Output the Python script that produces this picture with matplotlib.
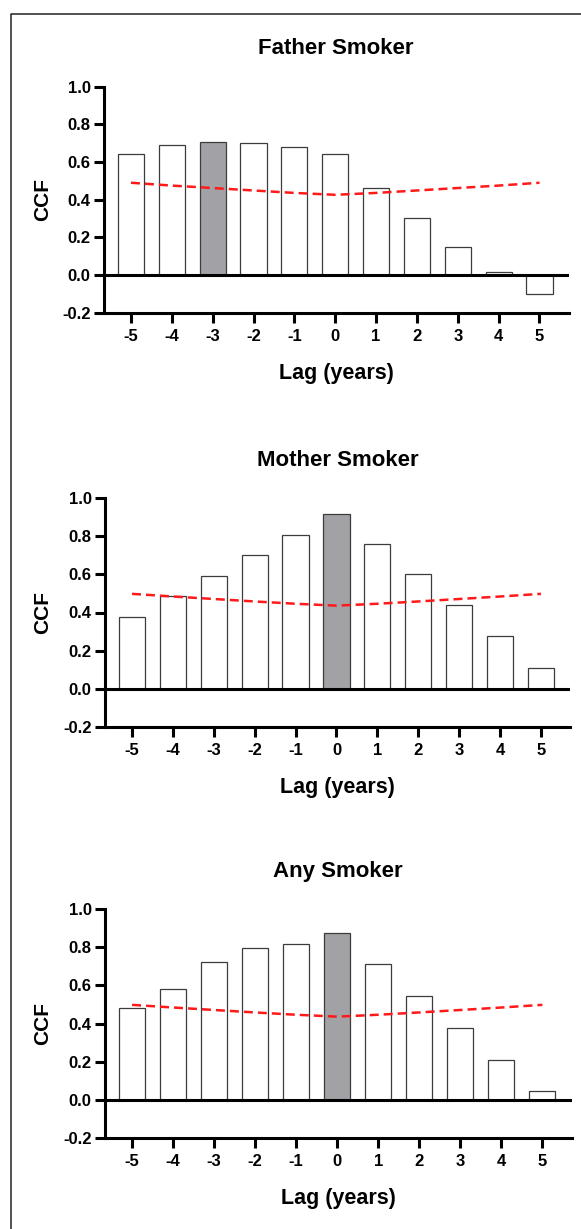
import matplotlib
matplotlib.use("Agg")
import matplotlib.pyplot as plt
from matplotlib.lines import Line2D

plt.rcParams['font.family'] = ['Liberation Sans', 'DejaVu Sans']
plt.rcParams['axes.unicode_minus'] = False

# Cross-correlation data
lags = [-5, -4, -3, -2, -1, 0, 1, 2, 3, 4, 5]
lag_labels = ["-5", "-4", "-3", "-2", "-1", "0", "1", "2", "3", "4", "5"]

titles = ["Father Smoker", "Mother Smoker", "Any Smoker"]

ccf_father = [0.645, 0.690, 0.708, 0.703, 0.681, 0.644, 0.464, 0.301, 0.150, 0.014, -0.101]
ccf_mother = [0.377, 0.489, 0.593, 0.703, 0.807, 0.916, 0.759, 0.602, 0.442, 0.277, 0.111]
ccf_any = [0.483, 0.580, 0.722, 0.797, 0.820, 0.878, 0.711, 0.543, 0.375, 0.208, 0.045]

# Upper significance bound at each lag
bound_father = [0.490, 0.475, 0.462, 0.449, 0.436, 0.426, 0.436, 0.449, 0.462, 0.475, 0.490]
bound_mother = [0.498, 0.484, 0.471, 0.458, 0.446, 0.436, 0.446, 0.458, 0.471, 0.484, 0.498]
bound_any = [0.498, 0.484, 0.471, 0.458, 0.446, 0.436, 0.446, 0.458, 0.471, 0.484, 0.498]

# Lag of the peak correlation (highlighted bar)
peak_lag = [-3, 0, 0]

yticks = [-0.2, 0.0, 0.2, 0.4, 0.6, 0.8, 1.0]
ytick_labels = ["-0.2", "0.0", "0.2", "0.4", "0.6", "0.8", "1.0"]

series = [ccf_father, ccf_mother, ccf_any]
bounds = [bound_father, bound_mother, bound_any]

W, H = 581, 1229
fig = plt.figure(figsize=(W / 100, H / 100), dpi=100)

# panel boxes in pixels: left, right, top, bottom
boxes = [(104, 568.5, 86.7, 312.7),
         (105, 570, 498.3, 726.7),
         (105, 571.5, 909.3, 1137.7)]

spine_lw = 2.2
for i, (l, r, t, b) in enumerate(boxes):
    ax = fig.add_axes([l / W, 1 - b / H, (r - l) / W, (b - t) / H])
    vals = series[i]
    colors = ['#a2a2a6' if lg == peak_lag[i] else 'white' for lg in lags]
    ax.bar(lags, vals, width=0.64, color=colors, edgecolor='#3c3c3c',
           linewidth=0.9, zorder=2)
    ax.axhline(0, color='black', linewidth=spine_lw, zorder=3)
    ax.plot(lags, bounds[i], color='#ff1a1a', linewidth=1.8,
            dashes=(3.6, 2.0), zorder=4)

    ax.set_xlim(-5.66, 5.71)
    ax.set_ylim(-0.2, 1.0)
    ax.set_xticks(lags)
    ax.set_xticklabels(lag_labels)
    ax.set_yticks(yticks)
    ax.set_yticklabels(ytick_labels)

    for s in ['top', 'right']:
        ax.spines[s].set_visible(False)
    for s in ['left', 'bottom']:
        ax.spines[s].set_linewidth(spine_lw)
        ax.spines[s].set_color('black')
    ax.tick_params(axis='both', length=7.2, width=spine_lw, color='black',
                   labelsize=12)
    ax.tick_params(axis='y', pad=2.5)
    ax.tick_params(axis='x', pad=4.5)
    for lab in ax.get_xticklabels() + ax.get_yticklabels():
        lab.set_fontweight('bold')

    hpx = b - t
    ax.text(0.5, 1 + 38 / hpx, titles[i], transform=ax.transAxes,
            ha='center', va='center', fontsize=16, fontweight='bold')
    ax.set_xlabel("Lag (years)", fontsize=15.5, fontweight='bold')
    ax.xaxis.label.set_va('center')
    ax.xaxis.set_label_coords(0.5, -61 / hpx)
    ax.set_ylabel("CCF", fontsize=15, fontweight='bold')
    ax.yaxis.label.set_va('center')
    ax.yaxis.set_label_coords((43 - l) / (r - l), 0.5)

# frame around the figure (open at right and bottom)
fig.add_artist(Line2D([11 / W, 11 / W, 1.0], [0.0, 1 - 14 / H, 1 - 14 / H],
                      transform=fig.transFigure, color='#333333',
                      linewidth=1.2))

fig.savefig("out.png", dpi=100)
